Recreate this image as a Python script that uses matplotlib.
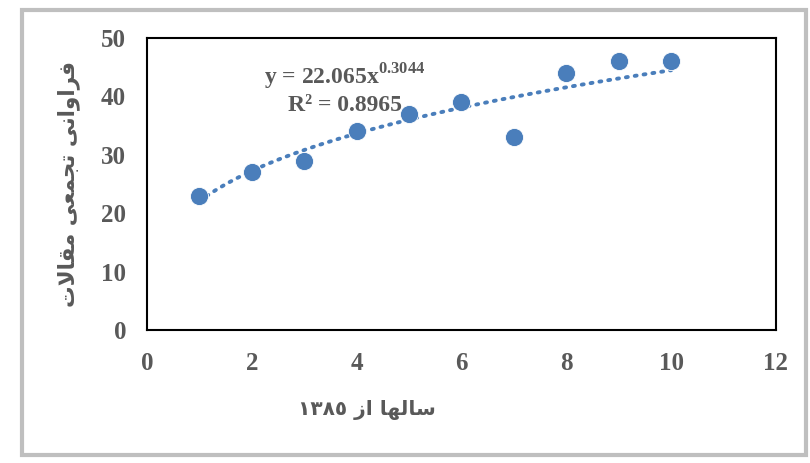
import numpy as np
import matplotlib.pyplot as plt
from matplotlib.patches import Rectangle

years = [1, 2, 3, 4, 5, 6, 7, 8, 9, 10]
counts = [23, 27, 29, 34, 37, 39, 33, 44, 46, 46]
coef_a = 22.065
coef_b = 0.3044
eq_text = r"y = 22.065x$^{\mathbf{0.3044}}$" + "\nR² = 0.8965"

# Persian labels, shaped by hand (presentation forms, visual order)
xlabel = "١٣٨٥ " + "\uFEAF\uFE8D" + " " + "\uFE8E\uFEEC\uFEDF\uFE8E\uFEB3"
ylabel = ("\uFE95\uFEFB\uFE8E\uFED8\uFEE3" + " "
          + "\uFEF0\uFECC\uFEE4\uFEA0\uFE97" + " "
          + "\uFEF0\uFEE7\uFE8D\uFEED\uFE8D\uFEAE\uFED3")

blue = "#4a7ebb"
gray = "#595959"

plt.rcParams['font.family'] = ['Liberation Serif', 'DejaVu Serif']
plt.rcParams['mathtext.fontset'] = 'custom'
plt.rcParams['mathtext.rm'] = 'Liberation Serif'
plt.rcParams['mathtext.bf'] = 'Liberation Serif:bold'

fig = plt.figure(figsize=(8.1, 4.63), dpi=100)
ax = fig.add_axes([0.1815, 0.287, 0.7765, 0.631])

# outer chart frame
fig.patches.append(Rectangle((0.027, 0.017), 0.968, 0.962, transform=fig.transFigure,
                             fill=False, edgecolor="#bfbfbf", linewidth=3))

xs = np.linspace(years[0], years[-1], 100)
ax.plot(xs, coef_a * xs ** coef_b, linestyle=(0, (0.5, 1.8)), color=blue,
        linewidth=2.8, dash_capstyle='round', zorder=2)
ax.scatter(years, counts, s=170, color=blue, edgecolors='white', linewidths=0.6, zorder=3)

ax.set_xlim(0, 12)
ax.set_ylim(0, 50)
ax.set_xticks(range(0, 13, 2))
ax.set_yticks(range(0, 51, 10))
ax.tick_params(length=0, labelsize=18, labelcolor=gray)
ax.tick_params(axis='x', pad=16)
ax.tick_params(axis='y', pad=15)
for lab in ax.get_xticklabels() + ax.get_yticklabels():
    lab.set_fontweight('bold')
for sp in ax.spines.values():
    sp.set_linewidth(1.5)
    sp.set_color('black')

ax.text(3.78, 41.3, eq_text, ha='center', va='center', fontsize=17,
        fontweight='bold', color=gray, linespacing=1.2)

ax.set_xlabel(xlabel, family=['DejaVu Sans'], fontsize=14.5, color=gray,
              fontweight='bold')
ax.xaxis.set_label_coords(0.35, -0.24)
ax.set_ylabel(ylabel, family=['DejaVu Sans'], fontsize=15.5, color=gray,
              fontweight='bold')
ax.yaxis.set_label_coords(-0.106, 0.5)

fig.savefig("out.png", dpi=100)
